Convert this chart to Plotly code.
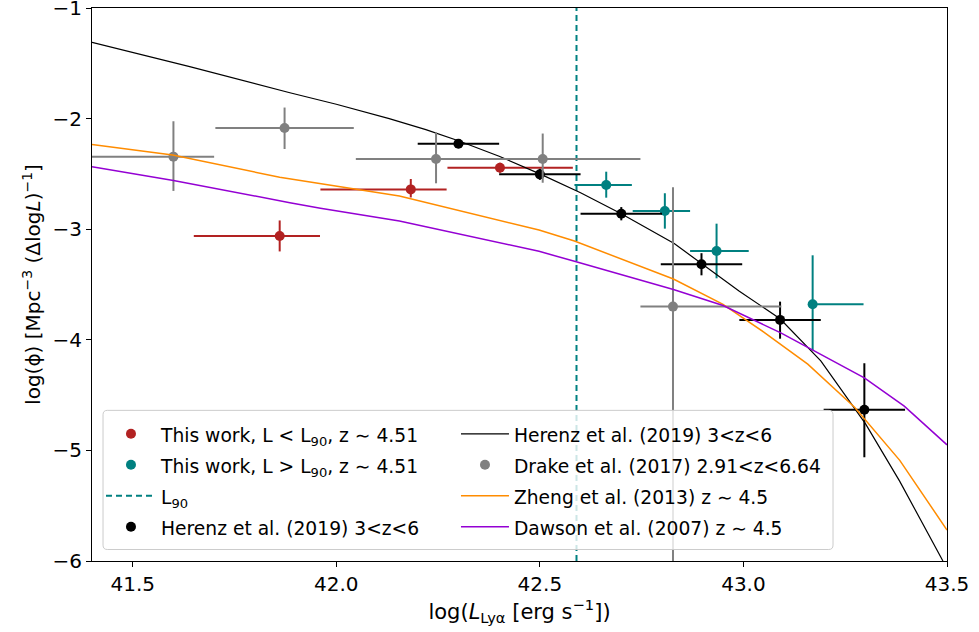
import plotly.graph_objects as go

# ---- data ----
red_x = [41.861, 42.183, 42.402]
red_y = [-3.061, -2.640, -2.444]
red_xerr_lo = [0.211, 0.222, 0.129]
red_xerr_hi = [0.099, 0.088, 0.179]
red_yerr_hi = [0.14, 0.094, 0.045]
red_yerr_lo = [0.14, 0.073, 0.045]

teal_x = [42.663, 42.807, 42.934, 43.17]
teal_y = [-2.600, -2.835, -3.197, -3.679]
teal_xerr_lo = [0.078, 0.079, 0.065, 0.0]
teal_xerr_hi = [0.063, 0.062, 0.079, 0.125]
teal_yerr_hi = [0.12, 0.16, 0.247, 0.443]
teal_yerr_lo = [0.115, 0.16, 0.247, 0.416]

L90 = 42.59

herenz_x = [42.3, 42.5, 42.7, 42.897, 43.09, 43.297]
herenz_y = [-2.227, -2.504, -2.86, -3.317, -3.820, -4.632]
herenz_xerr = [0.1, 0.1, 0.1, 0.1, 0.1, 0.1]
herenz_yerr_hi = [0.04, 0.05, 0.06, 0.10, 0.165, 0.42]
herenz_yerr_lo = [0.04, 0.05, 0.06, 0.10, 0.17, 0.43]

drake_x = [41.6, 41.873, 42.245, 42.507, 42.827]
drake_y = [-2.344, -2.085, -2.365, -2.365, -3.70]
drake_xerr_lo = [0.25, 0.17, 0.197, 0.24, 0.08]
drake_xerr_hi = [0.10, 0.17, 0.197, 0.24, 0.266]
drake_yerr_hi = [0.32, 0.185, 0.24, 0.23, 1.08]
drake_yerr_lo = [0.31, 0.19, 0.22, 0.215, 3.0]

herenz_curve_x = [41.40, 41.64, 41.886, 42.0, 42.13, 42.22, 42.30, 42.40, 42.50, 42.60, 42.70, 42.83, 42.99, 43.09, 43.19, 43.30, 43.384, 43.49]
herenz_curve_y = [-1.31, -1.53, -1.766, -1.87, -2.00, -2.10, -2.20, -2.34, -2.50, -2.67, -2.86, -3.13, -3.56, -3.81, -4.19, -4.76, -5.28, -6.0]

zheng_x = [41.40, 41.598, 41.861, 42.065, 42.155, 42.498, 42.585, 42.828, 42.95, 43.05, 43.158, 43.273, 43.384, 43.50]
zheng_y = [-2.233, -2.33, -2.53, -2.65, -2.70, -3.007, -3.107, -3.45, -3.68, -3.93, -4.22, -4.61, -5.09, -5.72]

dawson_x = [41.40, 41.60, 41.886, 41.961, 42.155, 42.498, 42.585, 42.828, 42.95, 43.093, 43.297, 43.395, 43.50]
dawson_y = [-2.435, -2.56, -2.76, -2.81, -2.926, -3.20, -3.29, -3.545, -3.69, -3.94, -4.345, -4.60, -4.95]

x_ticks = [41.5, 42.0, 42.5, 43.0, 43.5]
y_ticks = [-6, -5, -4, -3, -2, -1]

FONT = "DejaVu Sans"
LEG_TXT = 18.7  # visible legend text size (px)


def lt(s):
    return '<span style="font-size:%spx">%s</span>' % (LEG_TXT, s)


def pts(name, x, y, xlo, xhi, ylo, yhi, color, legend):
    return go.Scatter(
        x=x, y=y, mode="markers", name=lt(name), legend=legend,
        marker=dict(color=color, size=10, symbol="circle"),
        error_x=dict(type="data", symmetric=False, array=xhi, arrayminus=xlo,
                     color=color, thickness=2, width=0),
        error_y=dict(type="data", symmetric=False, array=yhi, arrayminus=ylo,
                     color=color, thickness=2, width=0),
    )


fig = go.Figure()

# first legend column
fig.add_trace(pts("This work, L < L<sub>90</sub>, z ∼ 4.51", red_x, red_y,
                  red_xerr_lo, red_xerr_hi, red_yerr_lo, red_yerr_hi, "#b22222", "legend"))
fig.add_trace(pts("This work, L > L<sub>90</sub>, z ∼ 4.51", teal_x, teal_y,
                  teal_xerr_lo, teal_xerr_hi, teal_yerr_lo, teal_yerr_hi, "#008080", "legend"))
fig.add_trace(go.Scatter(x=[L90, L90], y=[-6, -1], mode="lines", name=lt("L<sub>90</sub>"),
                         legend="legend",
                         line=dict(color="#008080", width=2, dash="6px,4px")))
fig.add_trace(pts("Herenz et al. (2019) 3<z<6", herenz_x, herenz_y,
                  herenz_xerr, herenz_xerr, herenz_yerr_lo, herenz_yerr_hi, "black", "legend"))
# second legend column
fig.add_trace(go.Scatter(x=herenz_curve_x, y=herenz_curve_y, mode="lines",
                         name=lt("Herenz et al. (2019) 3<z<6"), legend="legend2",
                         line=dict(color="black", width=1.2)))
fig.add_trace(pts("Drake et al. (2017) 2.91<z<6.64", drake_x, drake_y,
                  drake_xerr_lo, drake_xerr_hi, drake_yerr_lo, drake_yerr_hi, "#808080", "legend2"))
fig.add_trace(go.Scatter(x=zheng_x, y=zheng_y, mode="lines",
                         name=lt("Zheng et al. (2013) z ∼ 4.5"), legend="legend2",
                         line=dict(color="#ff8c00", width=1.5)))
fig.add_trace(go.Scatter(x=dawson_x, y=dawson_y, mode="lines",
                         name=lt("Dawson et al. (2007) z ∼ 4.5"), legend="legend2",
                         line=dict(color="#9400d3", width=1.5)))

axis_common = dict(showline=True, linecolor="black", linewidth=1, mirror=True,
                   ticks="outside", ticklen=5, tickcolor="black", tickwidth=1,
                   showgrid=False, zeroline=False, automargin=False,
                   ticklabeloverflow="allow",
                   tickfont=dict(family=FONT, size=20, color="black"))

# legend frame (rounded, semi-transparent) in plot-area (paper) coordinates
x0, x1, y0, y1 = 0.0129, 0.8667, 0.0208, 0.2724
rx, ry = 0.005, 0.008
frame_path = (f"M {x0+rx},{y0} L {x1-rx},{y0} Q {x1},{y0} {x1},{y0+ry} "
              f"L {x1},{y1-ry} Q {x1},{y1} {x1-rx},{y1} L {x0+rx},{y1} "
              f"Q {x0},{y1} {x0},{y1-ry} L {x0},{y0+ry} Q {x0},{y0} {x0+rx},{y0} Z")

leg_common = dict(orientation="v", yanchor="top", xanchor="left", y=0.267,
                  bgcolor="rgba(0,0,0,0)", borderwidth=0,
                  font=dict(family=FONT, size=21.5, color="black"),
                  traceorder="normal", tracegroupgap=0)

fig.update_layout(
    width=979, height=632,
    margin=dict(l=92, r=32, t=8, b=71),
    plot_bgcolor="white", paper_bgcolor="white",
    font=dict(family=FONT, size=18, color="black"),
    xaxis=dict(range=[41.4, 43.5], tickvals=x_ticks, tickformat=".1f",
               title=dict(text="log(<i>L</i><sub>Lyα</sub> [erg s<sup>−1</sup>])",
                          font=dict(family=FONT, size=21), standoff=6),
               **axis_common),
    yaxis=dict(range=[-6, -1], tickvals=y_ticks,
               title=dict(text="log(ϕ) [Mpc<sup>−3</sup> (Δlog<i>L</i>)<sup>−1</sup>]",
                          font=dict(family=FONT, size=20), standoff=6),
               **axis_common),
    shapes=[dict(type="path", path=frame_path, xref="paper", yref="paper",
                 layer="above", fillcolor="rgba(255,255,255,0.8)",
                 line=dict(color="#cccccc", width=1))],
    showlegend=True,
    legend=dict(x=0.0105, itemwidth=50, **leg_common),
    legend2=dict(x=0.4257, itemwidth=48, **leg_common),
)

fig.write_html("out.html", config={"displayModeBar": False},
               post_script="document.body.style.margin='0';")
